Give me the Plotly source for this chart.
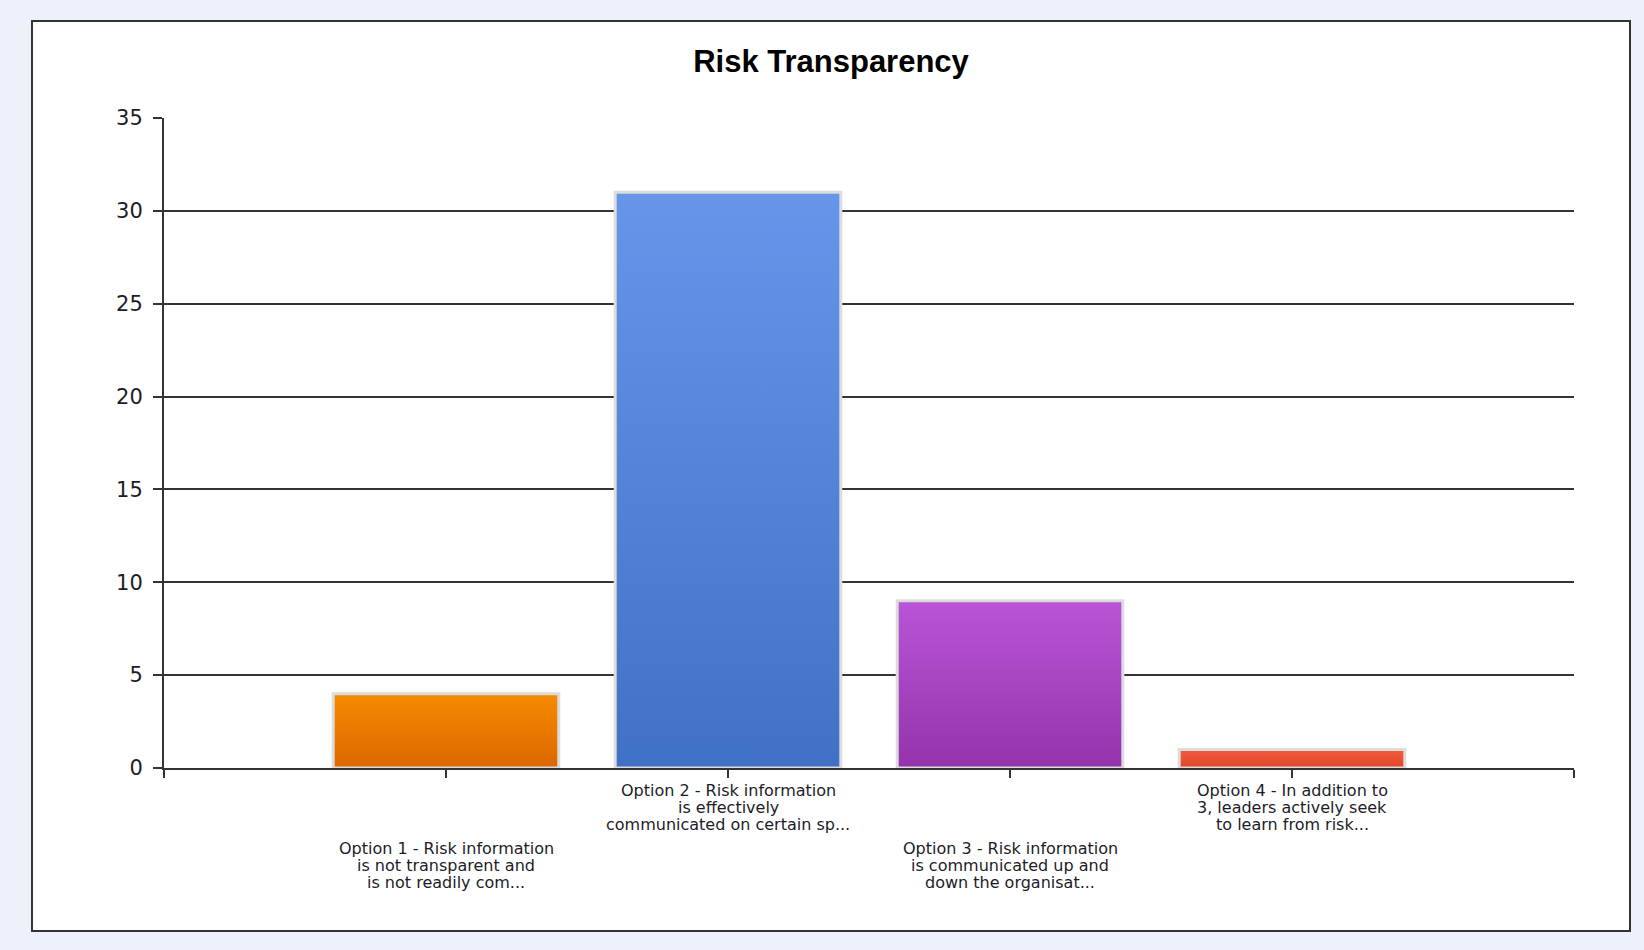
"""
Risk Transparency bar chart
"""
import plotly.graph_objects as go

# data
categories = [
    ["Option 1 - Risk information", "is not transparent and", "is not readily com..."],
    ["Option 2 - Risk information", "is effectively", "communicated on certain sp..."],
    ["Option 3 - Risk information", "is communicated up and", "down the organisat..."],
    ["Option 4 - In addition to", "3, leaders actively seek", "to learn from risk..."],
]
counts = [4, 31, 9, 1]
top_colors = ["#F68B00", "#6795EA", "#B955D6", "#F25C3E"]
bottom_colors = ["#DC6700", "#4170C7", "#9433AC", "#E0452A"]
y_ticks = [0, 5, 10, 15, 20, 25, 30, 35]

W, H = 1644, 950
L, R, T, B = 164, 1574, 118, 768  # plot area in pixels
BAR_W = 0.80


def px_x(x):
    return (x - L) / (R - L)


def px_y(y):
    return (B - y) / (B - T)


positions = list(range(1, len(categories) + 1))

fig = go.Figure()

# bars as filled rectangles so they can carry the vertical gradient
for pos, val, c_top, c_bot in zip(positions, counts, top_colors, bottom_colors):
    x0, x1 = pos - BAR_W / 2, pos + BAR_W / 2
    fig.add_trace(go.Scatter(
        x=[x0, x0, x1, x1, x0],
        y=[0, val, val, 0, 0],
        mode="lines",
        fill="toself",
        fillgradient=dict(type="vertical", colorscale=[[0, c_bot], [1, c_top]]),
        line=dict(color="#DCDCDC", width=3),
        hoverinfo="skip",
    ))

# staggered category labels under the axis, one annotation per line
for i, (pos, lines) in enumerate(zip(positions, categories)):
    first = 790 if i % 2 == 1 else 848
    for k, line in enumerate(lines):
        fig.add_annotation(
            x=pos, xref="x", y=px_y(first + k * 17.2), yref="paper",
            text=line, showarrow=False, yanchor="middle", xanchor="center",
            font=dict(family="DejaVu Sans", size=16, color="#1c1c28"),
        )

# white chart frame
fig.add_shape(
    type="rect", xref="paper", yref="paper", layer="below",
    x0=px_x(32), x1=px_x(1630), y0=px_y(931), y1=px_y(21),
    line=dict(color="#333333", width=2), fillcolor="white",
)

fig.update_layout(
    width=W, height=H,
    margin=dict(l=L, r=W - R, t=T, b=H - B),
    paper_bgcolor="#EDF2FA",
    plot_bgcolor="white",
    showlegend=False,
    title=dict(
        text="<b>Risk Transparency</b>",
        x=831 / W, xanchor="center", xref="container",
        y=1 - 61 / H, yanchor="middle", yref="container",
        font=dict(family="Liberation Sans", size=31, color="black"),
    ),
    xaxis=dict(
        range=[0, 5], tickvals=[0, 1, 2, 3, 4, 5], showticklabels=False,
        ticks="outside", ticklen=8, tickcolor="#333333", tickwidth=2,
        showline=True, linecolor="#333333", linewidth=2,
        showgrid=False, zeroline=False, fixedrange=True,
    ),
    yaxis=dict(
        range=[0, 35], tickvals=y_ticks,
        ticks="outside", ticklen=9, tickcolor="#333333", tickwidth=1.5,
        ticklabelstandoff=6,
        showline=True, linecolor="#333333", linewidth=2,
        gridcolor="#333333", gridwidth=1.5, zeroline=False,
        tickfont=dict(family="DejaVu Sans", size=21, color="#1c1c28"),
        fixedrange=True,
    ),
)

fig.write_html(
    "out.html",
    config={"displayModeBar": False},
    post_script="document.body.style.margin = '0';",
)
